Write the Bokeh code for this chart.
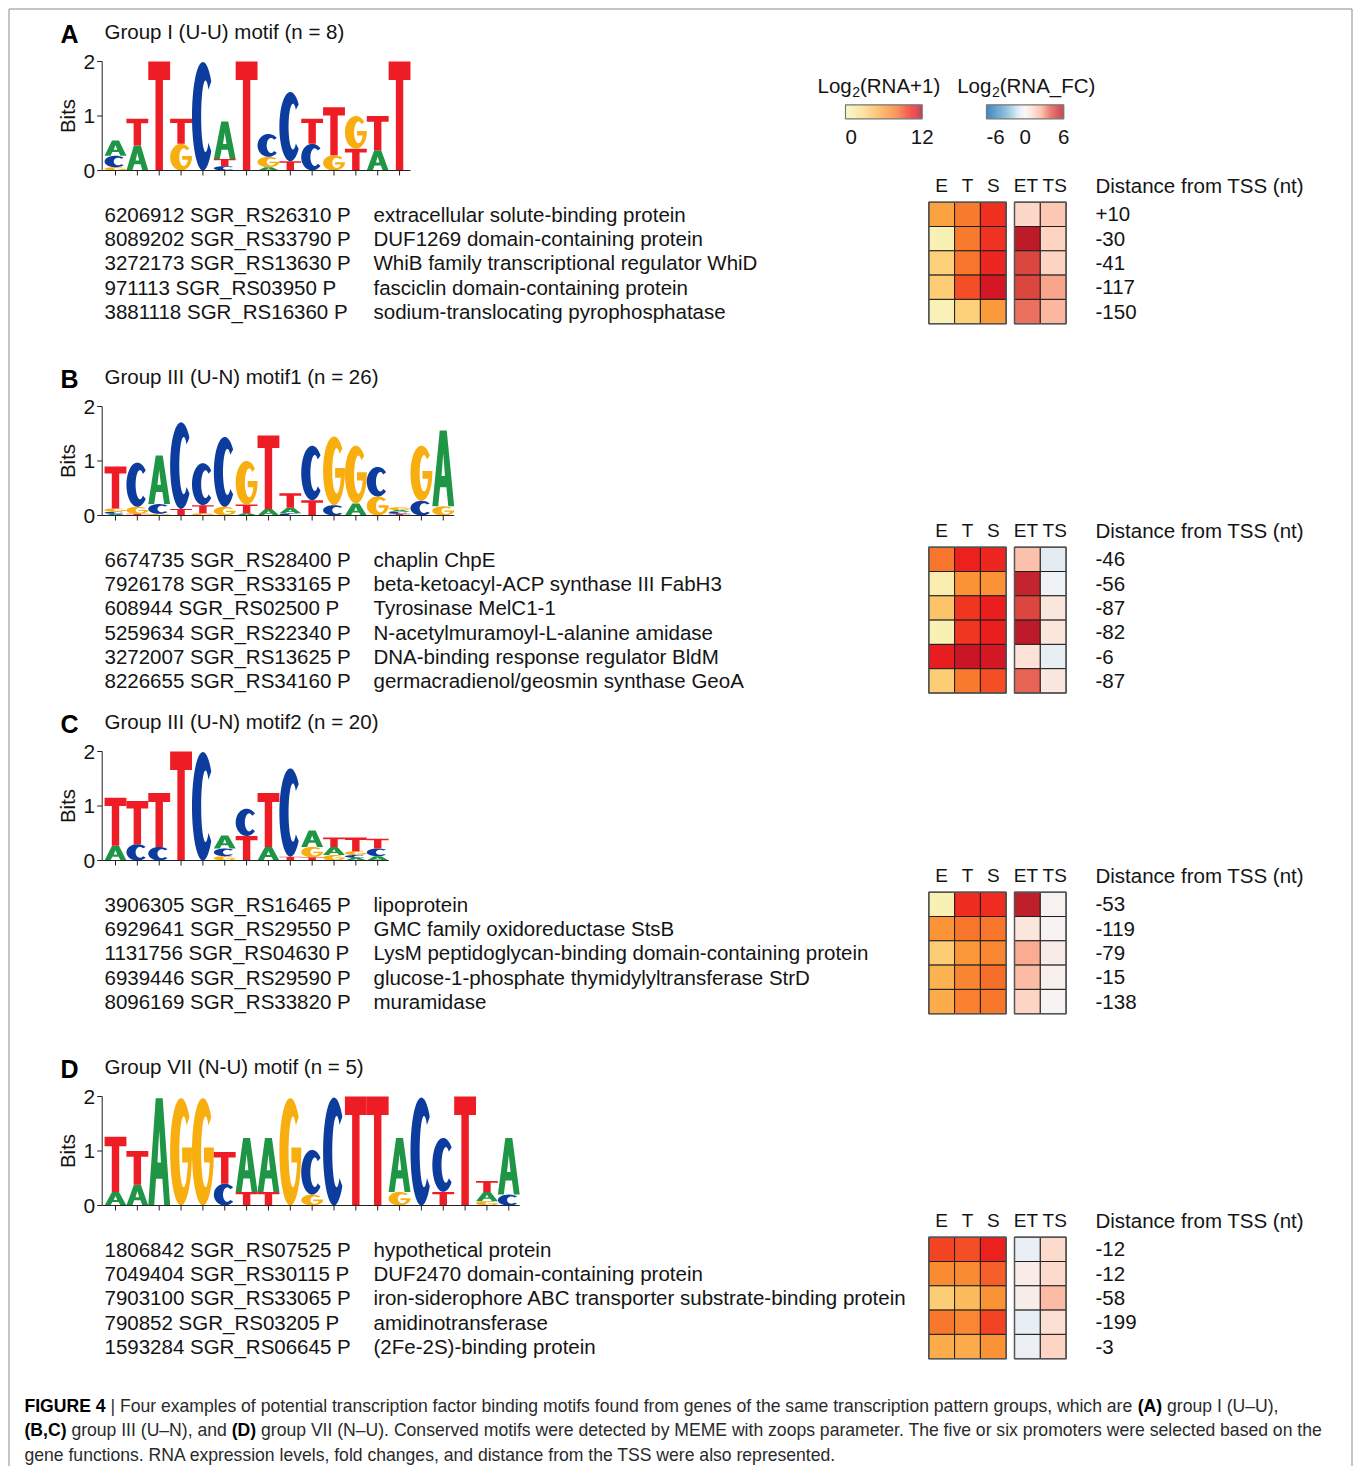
import glob
import numpy as np
from bokeh.plotting import figure
from bokeh.models import Range1d, ColumnDataSource, LinearColorMapper
from bokeh.core.properties import value
from bokeh.embed import file_html
from bokeh.resources import INLINE

# ------------------------------------------------------------------ data
PANEL_LETTERS = ["A", "B", "C", "D"]
TITLES = ["Group I (U-U) motif (n = 8)",
          "Group III (U-N) motif1 (n = 26)",
          "Group III (U-N) motif2 (n = 20)",
          "Group VII (N-U) motif (n = 5)"]
BITS_TICKS = [0, 1, 2]

# sequence logos: per position, stacked (letter, bits) from bottom to top
LOGO_A = [
    [("G", 0.06), ("C", 0.21), ("A", 0.28)],
    [("A", 0.46), ("T", 0.49)],
    [("T", 2.0)],
    [("G", 0.49), ("T", 0.46)],
    [("C", 1.99)],
    [("C", 0.08), ("T", 0.13), ("A", 0.69)],
    [("T", 2.0)],
    [("A", 0.06), ("G", 0.19), ("C", 0.42)],
    [("T", 0.17), ("C", 1.27)],
    [("C", 0.49), ("T", 0.46)],
    [("G", 0.28), ("T", 0.88)],
    [("T", 0.40), ("G", 0.60)],
    [("A", 0.37), ("T", 0.63)],
    [("T", 2.0)],
]
LOGO_B = [
    [("A", 0.03), ("C", 0.04), ("G", 0.06), ("T", 0.77)],
    [("T", 0.03), ("G", 0.13), ("C", 0.81)],
    [("G", 0.03), ("C", 0.18), ("A", 0.89)],
    [("T", 0.12), ("C", 1.59)],
    [("G", 0.04), ("T", 0.15), ("C", 0.77)],
    [("G", 0.16), ("C", 1.28)],
    [("A", 0.04), ("T", 0.16), ("G", 0.80)],
    [("A", 0.12), ("T", 1.35)],
    [("C", 0.04), ("A", 0.10), ("T", 0.27)],
    [("T", 0.28), ("C", 1.00)],
    [("C", 0.19), ("G", 1.26)],
    [("A", 0.22), ("G", 1.06)],
    [("G", 0.35), ("C", 0.54)],
    [("T", 0.03), ("C", 0.04), ("A", 0.03), ("G", 0.05)],
    [("C", 0.27), ("G", 1.01)],
    [("G", 0.17), ("A", 1.39)],
]
LOGO_C = [
    [("A", 0.27), ("T", 0.88)],
    [("C", 0.30), ("T", 0.79)],
    [("C", 0.25), ("T", 0.99)],
    [("T", 2.0)],
    [("C", 1.99)],
    [("G", 0.08), ("C", 0.14), ("A", 0.24)],
    [("T", 0.45), ("C", 0.50)],
    [("A", 0.25), ("T", 0.99)],
    [("T", 0.07), ("C", 1.62)],
    [("T", 0.06), ("G", 0.19), ("A", 0.30)],
    [("G", 0.10), ("A", 0.15), ("T", 0.17)],
    [("A", 0.05), ("C", 0.05), ("G", 0.07), ("T", 0.25)],
    [("A", 0.08), ("C", 0.14), ("T", 0.18)],
]
LOGO_D = [
    [("A", 0.25), ("T", 1.01)],
    [("A", 0.38), ("T", 0.62)],
    [("A", 1.97)],
    [("G", 1.97)],
    [("G", 1.97)],
    [("C", 0.40), ("T", 0.58)],
    [("T", 0.25), ("A", 0.99)],
    [("T", 0.25), ("A", 0.99)],
    [("G", 1.97)],
    [("G", 0.20), ("C", 0.82)],
    [("C", 1.98)],
    [("T", 2.0)],
    [("T", 2.0)],
    [("G", 0.25), ("A", 0.99)],
    [("C", 1.98)],
    [("T", 0.25), ("C", 0.99)],
    [("T", 2.0)],
    [("G", 0.08), ("A", 0.17), ("T", 0.20)],
    [("C", 0.20), ("A", 1.04)],
]

GENES_A = ["6206912 SGR_RS26310 P", "8089202 SGR_RS33790 P", "3272173 SGR_RS13630 P",
           "971113 SGR_RS03950 P", "3881118 SGR_RS16360 P"]
DESC_A = ["extracellular solute-binding protein", "DUF1269 domain-containing protein",
          "WhiB family transcriptional regulator WhiD", "fasciclin domain-containing protein",
          "sodium-translocating pyrophosphatase"]
DIST_A = [10, -30, -41, -117, -150]
EXPR_A = [[5.9, 7.8, 9.9], [0.6, 7.8, 9.8], [3.3, 8.0, 10.2], [3.5, 9.0, 11.2], [0.5, 3.3, 6.3]]
FC_A = [[1.2, 1.7], [5.6, 1.4], [4.3, 1.4], [4.3, 2.7], [3.5, 2.3]]

GENES_B = ["6674735 SGR_RS28400 P", "7926178 SGR_RS33165 P", "608944 SGR_RS02500 P",
           "5259634 SGR_RS22340 P", "3272007 SGR_RS13625 P", "8226655 SGR_RS34160 P"]
DESC_B = ["chaplin ChpE", "beta-ketoacyl-ACP synthase III FabH3", "Tyrosinase MelC1-1",
          "N-acetylmuramoyl-L-alanine amidase", "DNA-binding response regulator BldM",
          "germacradienol/geosmin synthase GeoA"]
DIST_B = [-46, -56, -87, -82, -6, -87]
EXPR_B = [[8.0, 10.4, 10.2], [0.8, 6.7, 6.7], [4.0, 9.7, 10.5], [0.6, 9.7, 10.5],
          [10.6, 11.4, 11.2], [3.5, 7.8, 9.0]]
FC_B = [[2.0, -0.7], [5.3, -0.2], [4.3, 0.7], [5.6, 0.7], [0.8, -0.6], [3.7, 0.6]]

GENES_C = ["3906305 SGR_RS16465 P", "6929641 SGR_RS29550 P", "1131756 SGR_RS04630 P",
           "6939446 SGR_RS29590 P", "8096169 SGR_RS33820 P"]
DESC_C = ["lipoprotein", "GMC family oxidoreductase StsB",
          "LysM peptidoglycan-binding domain-containing protein",
          "glucose-1-phosphate thymidylyltransferase StrD", "muramidase"]
DIST_C = [-53, -119, -79, -15, -138]
EXPR_C = [[0.6, 10.0, 10.0], [6.6, 8.0, 8.0], [3.5, 6.4, 7.2], [5.0, 7.3, 8.2], [5.3, 7.5, 7.9]]
FC_C = [[5.5, 0.15], [0.7, 0.1], [2.6, 0.4], [2.2, 0.25], [1.3, 0.1]]

GENES_D = ["1806842 SGR_RS07525 P", "7049404 SGR_RS30115 P", "7903100 SGR_RS33065 P",
           "790852 SGR_RS03205 P", "1593284 SGR_RS06645 P"]
DESC_D = ["hypothetical protein", "DUF2470 domain-containing protein",
          "iron-siderophore ABC transporter substrate-binding protein",
          "amidinotransferase", "(2Fe-2S)-binding protein"]
DIST_D = [-12, -12, -58, -199, -3]
EXPR_D = [[9.3, 9.0, 10.4], [7.0, 7.0, 8.6], [3.5, 4.5, 6.7], [7.9, 7.2, 9.3], [5.3, 5.3, 6.7]]
FC_D = [[-0.5, 1.1], [0.4, 1.1], [0.35, 2.2], [-0.6, 0.9], [-0.4, 1.3]]

HEAT_COLS = ["E", "T", "S", "ET", "TS"]
DIST_HEADER = "Distance from TSS (nt)"
EXPR_RANGE = (0, 12)
FC_RANGE = (-6, 6)
EXPR_TICKS = [0, 12]
FC_TICKS = [-6, 0, 6]

CAPTION = [
    [("FIGURE 4", True), (" | Four examples of potential transcription factor binding motifs found from genes of the same transcription pattern groups, which are ", False), ("(A)", True), (" group I (U\u2013U),", False)],
    [("(B,C)", True), (" group III (U\u2013N), and ", False), ("(D)", True), (" group VII (N\u2013U). Conserved motifs were detected by MEME with zoops parameter. The five or six promoters were selected based on the", False)],
    [("gene functions. RNA expression levels, fold changes, and distance from the TSS were also represented.", False)],
]

LOGOS = [LOGO_A, LOGO_B, LOGO_C, LOGO_D]
GENES = [GENES_A, GENES_B, GENES_C, GENES_D]
DESCS = [DESC_A, DESC_B, DESC_C, DESC_D]
DISTS = [DIST_A, DIST_B, DIST_C, DIST_D]
EXPRS = [EXPR_A, EXPR_B, EXPR_C, EXPR_D]
FCS = [FC_A, FC_B, FC_C, FC_D]

# ------------------------------------------------------------------ styles
FONT = "Liberation Sans"
TXT = "#141414"
LETTER_COLORS = {"A": "#1e9646", "C": "#0c3d9e", "G": "#f9ae10", "T": "#ee1c25"}
EXPR_STOPS = [(0, (248, 246, 192)), (3, (252, 214, 128)), (5, (252, 178, 80)),
              (6.5, (250, 150, 55)), (8, (247, 118, 43)), (9.5, (241, 60, 34)),
              (10.5, (236, 30, 30)), (11.5, (200, 20, 40)), (12, (160, 10, 30))]
FC_STOPS = [(-6, (5, 100, 170)), (-3, (110, 170, 210)), (-1, (220, 232, 242)),
            (0, (246, 246, 246)), (1, (253, 222, 208)), (2.5, (252, 178, 152)),
            (4, (226, 80, 68)), (6, (180, 15, 35))]


def make_palette(stops, n=256):
    xs = [s[0] for s in stops]
    out = []
    for v in np.linspace(xs[0], xs[-1], n):
        rgb = [int(round(np.interp(v, xs, [s[1][c] for s in stops]))) for c in range(3)]
        out.append("#%02x%02x%02x" % tuple(rgb))
    return out


expr_mapper = LinearColorMapper(palette=make_palette(EXPR_STOPS), low=EXPR_RANGE[0], high=EXPR_RANGE[1])
fc_mapper = LinearColorMapper(palette=make_palette(FC_STOPS), low=FC_RANGE[0], high=FC_RANGE[1])

# text measuring (for caption / subscripts)
_fcache = {}


def _font_file(bold):
    pat = "LiberationSans-Bold.ttf" if bold else "LiberationSans-Regular.ttf"
    for root in ["/usr/share/fonts", "/usr/local/share/fonts", "/usr/share"]:
        hits = glob.glob(root + "/**/" + pat, recursive=True)
        if hits:
            return hits[0]
    return None


def text_width(s, size, bold=False):
    try:
        from PIL import ImageFont
        if bold not in _fcache:
            _fcache[bold] = ImageFont.truetype(_font_file(bold), 200)
        return _fcache[bold].getlength(s) * size / 200.0
    except Exception:
        return len(s) * size * (0.56 if bold else 0.5)


# ------------------------------------------------------------------ geometry (page pixels)
W, H = 1354, 1466
PANEL_DY = 345
COL_W = 21.85
COL1_X = 115.0
AXIS_X = 101.7
BIT_PX = 54.5
ZERO0 = 170.0
FS = "20.5px"

p = figure(width=W, height=H, x_range=Range1d(0, W), y_range=Range1d(H, 0),
           x_axis_type=None, y_axis_type=None, toolbar_location=None, output_backend="svg",
           min_border=0, outline_line_color=None)
p.background_fill_color = "white"
p.border_fill_color = "white"

p.extra_x_ranges = {"logo": Range1d(1 - COL1_X / COL_W, 1 + (W - COL1_X) / COL_W)}
eyr = {}
for k in range(4):
    zero = ZERO0 + k * PANEL_DY
    eyr["bits%d" % k] = Range1d((zero - H) / BIT_PX, zero / BIT_PX)
p.extra_y_ranges = eyr


def txt(x, y, s, size=FS, align="left", baseline="middle", bold=False, color=TXT, angle=0,
        xr="default", yr="default"):
    kw = {}
    if xr != "default":
        kw["x_range_name"] = xr
    if yr != "default":
        kw["y_range_name"] = yr
    p.text(x=list(x), y=list(y), text=list(s), text_font=value(FONT), text_font_size=value(size),
           text_align=align, text_baseline=baseline, text_color=color, angle=angle,
           text_font_style="bold" if bold else "normal", **kw)


# letter templates in a unit box
def arc(cx, cy, rx, ry, a0, a1, n=50):
    t = np.radians(np.linspace(a0, a1, n))
    return list(cx + rx * np.cos(t)), list(cy + ry * np.sin(t))


def letter_rings(L):
    if L == "T":
        return [([0, 1, 1, 0.67, 0.67, 0.33, 0.33, 0], [1, 1, 0.83, 0.83, 0, 0, 0.83, 0.83])]
    if L == "A":
        return [([0, 0.34, 0.66, 1, 0.73, 0.645, 0.355, 0.27], [0, 1, 1, 0, 0, 0.25, 0.25, 0]),
                ([0.42, 0.5, 0.58], [0.40, 0.70, 0.40])]
    if L == "C":
        ox, oy = arc(0.5, 0.5, 0.5, 0.5, 40, 320)
        ix, iy = arc(0.62, 0.5, 0.2, 0.33, 312, 48)
        return [(ox + ix, oy + iy)]
    # G
    ox, oy = arc(0.5, 0.5, 0.5, 0.5, 40, 360)
    th = np.degrees(np.arcsin((0.40 - 0.5) / 0.33))
    ix, iy = arc(0.62, 0.5, 0.2, 0.33, th, 48 - 360)
    return [(ox + [1.0, 0.55, 0.55] + ix, oy + [0.54, 0.54, 0.40] + iy)]


for k, logo in enumerate(LOGOS):
    yr = "bits%d" % k
    xs, ys, cols = [], [], []
    for i, column in enumerate(logo, start=1):
        base = 0.0
        for L, h in column:
            rings = letter_rings(L)
            xs.append([[[i - 0.5 + u for u in rx] for rx, ry in rings]])
            ys.append([[[base + v * h for v in ry] for rx, ry in rings]])
            cols.append(LETTER_COLORS[L])
            base += h
    p.multi_polygons(xs="xs", ys="ys", fill_color="c", line_color=None,
                     source=ColumnDataSource(dict(xs=xs, ys=ys, c=cols)),
                     x_range_name="logo", y_range_name=yr)
    ax = 1 - (COL1_X - AXIS_X) / COL_W
    n = len(logo)
    tl = 5.0 / COL_W
    tb = 5.0 / BIT_PX
    x0s = [ax, ax] + [ax - tl] * len(BITS_TICKS) + list(range(1, n + 1))
    x1s = [ax, n + 0.5] + [ax] * len(BITS_TICKS) + list(range(1, n + 1))
    y0s = [0, 0] + BITS_TICKS + [0] * n
    y1s = [max(BITS_TICKS), 0] + BITS_TICKS + [-tb] * n
    p.segment(x0=x0s, y0=y0s, x1=x1s, y1=y1s, line_color="#222222", line_width=1,
              x_range_name="logo", y_range_name=yr)
    txt([ax - 7.0 / COL_W] * len(BITS_TICKS), BITS_TICKS, [str(b) for b in BITS_TICKS],
        size="21px", align="right", xr="logo", yr=yr)
    txt([ax - 35.0 / COL_W], [1], ["Bits"], size="20.5px", align="center", angle=np.pi / 2,
        xr="logo", yr=yr)
    # titles
    txt([60], [33 + k * PANEL_DY], [PANEL_LETTERS[k]], size="25px", bold=True, color="#000000")
    txt([104], [31 + k * PANEL_DY], [TITLES[k]])

# ------------------------------------------------------------------ heatmaps + gene table
HM_X0 = 928.3
CELL_W = 25.8
CELL_H = 24.3
GAP = 8.3
ROW0 = 201.7


def col_left(j):
    return HM_X0 + j * CELL_W + (GAP if j >= 3 else 0)


HEAD_NUDGE = [0, 0, 0, -1.5, 1.5]
for k in range(4):
    top0 = ROW0 + k * PANEL_DY
    nrow = len(GENES[k])
    # header
    txt([col_left(j) + CELL_W / 2 + HEAD_NUDGE[j] for j in range(5)], [185 + k * PANEL_DY] * 5,
        HEAT_COLS, size="19px", align="center")
    txt([1095], [185 + k * PANEL_DY], [DIST_HEADER])
    for data, mapper, j0 in [(EXPRS[k], expr_mapper, 0), (FCS[k], fc_mapper, 3)]:
        L, R, T, B, V = [], [], [], [], []
        for r, row in enumerate(data):
            for jj, v in enumerate(row):
                j = j0 + jj
                L.append(col_left(j)); R.append(col_left(j) + CELL_W)
                T.append(top0 + r * CELL_H); B.append(top0 + (r + 1) * CELL_H)
                V.append(v)
        p.quad(left="l", right="r", top="t", bottom="b",
               source=ColumnDataSource(dict(l=L, r=R, t=T, b=B, v=V)),
               fill_color={"field": "v", "transform": mapper}, line_color="#1e1e1e", line_width=1)
        ncol = len(data[0])
        p.quad(left=[col_left(j0)], right=[col_left(j0 + ncol - 1) + CELL_W], top=[top0],
               bottom=[top0 + nrow * CELL_H], fill_color=None, line_color="#555555", line_width=1.5)
    ys = [top0 + (r + 0.5) * CELL_H for r in range(nrow)]
    txt([104] * nrow, ys, GENES[k])
    txt([373] * nrow, ys, DESCS[k])
    txt([1095] * nrow, ys, [("+%d" % d) if d > 0 else str(d) for d in DISTS[k]])

# ------------------------------------------------------------------ colour legends
BAR_TOP, BAR_BOT = 104.3, 118.3
legends = [("(RNA+1)", 817.0, 845.0, 921.7, expr_mapper, EXPR_RANGE, EXPR_TICKS),
           ("(RNA_FC)", 956.7, 986.0, 1063.3, fc_mapper, FC_RANGE, FC_TICKS)]
for label, tx, bl, br, mapper, (lo, hi), ticks in legends:
    wlog = text_width("Log", 20.5)
    txt([tx], [85], ["Log"])
    txt([tx + wlog + 0.5], [91], ["2"], size="14px")
    txt([tx + wlog + 0.5 + text_width("2", 14)], [85], [label])
    nseg = 120
    edges = np.linspace(bl, br, nseg + 1)
    vals = lo + (np.arange(nseg) + 0.5) / nseg * (hi - lo)
    p.quad(left="l", right="r", top="t", bottom="b",
           fill_color={"field": "v", "transform": mapper}, line_color=None,
           source=ColumnDataSource(dict(l=list(edges[:-1]), r=list(edges[1:]),
                                        t=[BAR_TOP] * nseg, b=[BAR_BOT] * nseg, v=list(vals))))
    p.quad(left=[bl], right=[br], top=[BAR_TOP], bottom=[BAR_BOT], fill_color=None,
           line_color="#777777", line_width=1.2)
    for t in ticks:
        xpos = bl + (t - lo) / (hi - lo) * (br - bl)
        txt([xpos], [136.7], [str(t)], align="left" if t == lo else "center")

# ------------------------------------------------------------------ caption
line1_w = sum(text_width(s, 1.0, b) for s, b in CAPTION[0])
CAP_FS = float(np.clip(1254.0 / line1_w, 14, 19))
for li, line in enumerate(CAPTION):
    x = 24.0
    y = 1405 + li * 24.5
    for s, b in line:
        lead = len(s) - len(s.lstrip(" "))
        txt([x + text_width(s[:lead], CAP_FS, b)], [y], [s.strip(" ")], size="%.2fpx" % CAP_FS,
            bold=b, color="#000000" if b else "#2a2a2a")
        x += text_width(s, CAP_FS, b)

# frame lines
p.segment(x0=[8.5, 8.5, 1351.5], y0=[H, 8.5, 8.5], x1=[8.5, 1351.5, 1351.5], y1=[8.5, 8.5, H],
          line_color="#8a8a8a", line_width=1)

open("out.html", "w").write(file_html(p, INLINE))
